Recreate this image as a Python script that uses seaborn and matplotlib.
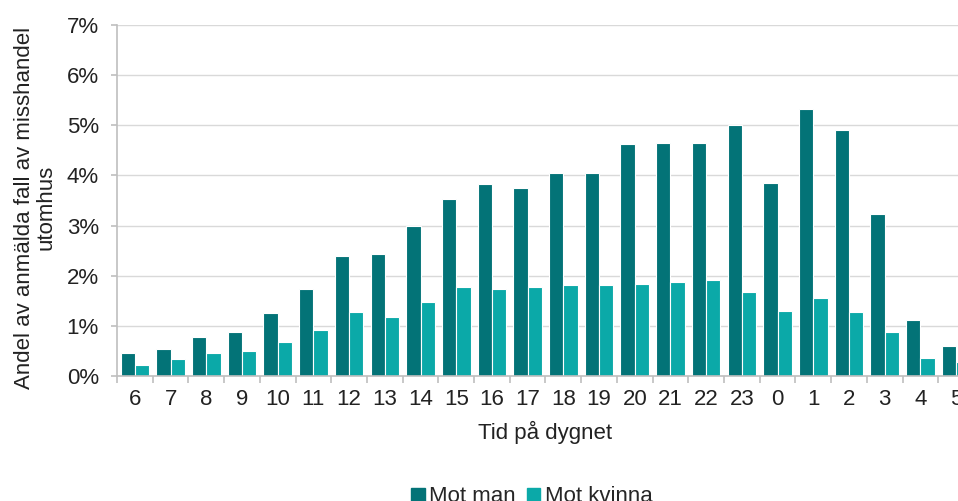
import matplotlib
matplotlib.use("Agg")
import matplotlib.pyplot as plt
from matplotlib.ticker import PercentFormatter, FixedLocator
import numpy as np
import pandas as pd
import seaborn as sns

hours = ["6", "7", "8", "9", "10", "11", "12", "13", "14", "15", "16", "17",
         "18", "19", "20", "21", "22", "23", "0", "1", "2", "3", "4", "5"]
mot_man = [0.45, 0.53, 0.78, 0.88, 1.25, 1.73, 2.39, 2.43, 3.00, 3.54, 3.83, 3.75,
           4.05, 4.05, 4.62, 4.65, 4.65, 5.00, 3.85, 5.33, 4.90, 3.24, 1.12, 0.60]
mot_kvinna = [0.22, 0.33, 0.45, 0.50, 0.68, 0.92, 1.27, 1.17, 1.48, 1.78, 1.73, 1.78,
              1.81, 1.81, 1.83, 1.88, 1.91, 1.68, 1.30, 1.55, 1.27, 0.88, 0.35, 0.27]
series = ["Mot man", "Mot kvinna"]
colors = ["#037377", "#0BA9A8"]

df = pd.DataFrame({
    "Tid": hours * 2,
    "Andel": mot_man + mot_kvinna,
    "Serie": [series[0]] * len(hours) + [series[1]] * len(hours),
})

sns.set_style("white")
plt.rcParams["font.family"] = ["Liberation Sans", "DejaVu Sans"]
fs = 16

fig = plt.figure(figsize=(9.58, 5.01), dpi=100)
# the right edge of the original is cropped, so the axes run past the figure
ax = fig.add_axes([117 / 958, 0.2495, 857 / 958, 0.7005])

sns.barplot(data=df, x="Tid", y="Andel", hue="Serie", order=hours,
            hue_order=series, palette=colors, saturation=1, width=0.8,
            edgecolor="white", linewidth=0.8, ax=ax, legend=False)

ax.set_ylim(0, 7)
ax.set_xlim(-0.5, len(hours) - 0.5)
ax.set_yticks(range(0, 8))
ax.yaxis.set_major_formatter(PercentFormatter(decimals=0))
ax.grid(axis="y", color="#D9D9D9", linewidth=1)
ax.set_axisbelow(True)

for s in ["top", "right"]:
    ax.spines[s].set_visible(False)
for s in ["left", "bottom"]:
    ax.spines[s].set_color("#BFBFBF")
    ax.spines[s].set_linewidth(1.2)

ax.tick_params(axis="y", left=True, length=4, width=1.2, color="#BFBFBF",
               pad=9, labelsize=fs, labelcolor="#222222")
ax.tick_params(axis="x", which="major", length=0, pad=9, labelsize=fs,
               labelcolor="#222222")
ax.xaxis.set_minor_locator(FixedLocator(np.arange(-0.5, len(hours), 1.0)))
ax.tick_params(axis="x", which="minor", bottom=True, length=5, width=1.2,
               color="#BFBFBF")

ax.set_xlabel("Tid på dygnet", fontsize=fs, color="#222222", labelpad=8)
ax.set_ylabel("Andel av anmälda fall av misshandel\nutomhus", fontsize=fs,
              color="#222222", linespacing=1.0)
ax.yaxis.set_label_coords(-0.071, 0.48)

handles = [plt.Rectangle((0, 0), 1, 1, color=c) for c in colors]
fig.legend(handles, series, loc="center", bbox_to_anchor=(532 / 958, 0.008),
           ncol=2, frameon=False, fontsize=fs, handlelength=0.6,
           handleheight=0.6, handletextpad=0.2, columnspacing=0.5)

fig.savefig("out.png", dpi=100)
